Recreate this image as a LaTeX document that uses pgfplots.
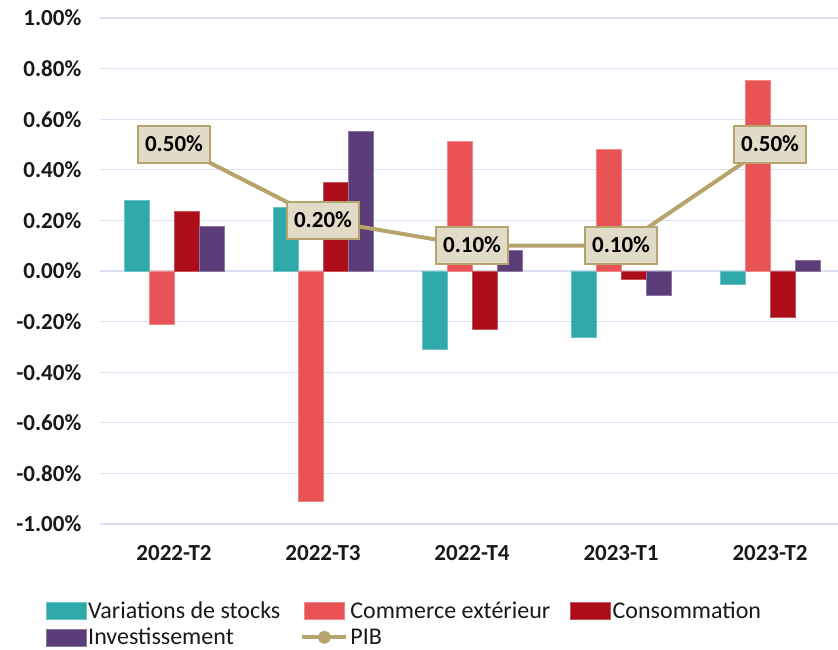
\documentclass[border=0pt]{standalone}
\usepackage{fontspec}
\setmainfont{Carlito}
\usepackage{pgfplots}
\pgfplotsset{compat=1.18}
\definecolor{cteal}{HTML}{2FA8AA}
\definecolor{csalmon}{HTML}{EA5356}
\definecolor{cred}{HTML}{AD0C19}
\definecolor{cpurple}{HTML}{5B3D79}
\definecolor{cpib}{HTML}{B5A46E}
\definecolor{clabfill}{HTML}{E2DBC7}
\definecolor{cgrid}{HTML}{D9E0F3}
\begin{document}
\begin{tikzpicture}[x=1pt,y=1pt]
\path[use as bounding box] (0,0) rectangle (838,650);
\begin{axis}[
  at={(99.5pt,126pt)}, anchor=south west,
  scale only axis, width=738.5pt, height=506pt,
  xmin=-0.5, xmax=4.456, ymin=-1, ymax=1,
  clip=false,
  axis line style={draw=none},
  tick style={draw=none},
  ymajorgrids, grid style={cgrid, line width=1.3pt},
  xtick={0,1,2,3,4},
  xticklabels={2022-T2,2022-T3,2022-T4,2023-T1,2023-T2},
  ytick={-1,-0.8,-0.6,-0.4,-0.2,0,0.2,0.4,0.6,0.8,1},
  yticklabels={-1.00\%,-0.80\%,-0.60\%,-0.40\%,-0.20\%,0.00\%,0.20\%,0.40\%,0.60\%,0.80\%,1.00\%},
  /pgf/number format/assume math mode=true,
  ticklabel style={font=\fontsize{23}{27}\selectfont\bfseries, text=black!90},
  yticklabel style={anchor=east, inner sep=0pt, xshift=-18pt},
  xticklabel style={anchor=north, inner sep=0pt, yshift=-21pt},
  /pgf/bar width=25pt,
  legend columns=3,
  legend cell align=left,
  legend style={at={(-0.0731,-0.152)}, anchor=north west, draw=none, fill=none,
    inner sep=0pt, font=\fontsize{24}{28}\selectfont, text=black!90,
    nodes={inner xsep=2pt, inner ysep=1pt},
    row sep=6pt,
    /tikz/every even column/.append style={column sep=18pt}},
]
\addplot[ybar, bar shift=-37.5pt, fill=cteal, draw=cteal!70!white, line width=0.5pt,
  legend image code/.code={\path[fill=cteal] (0pt,-8.5pt) rectangle (40pt,8.5pt);}]
  coordinates {(0,0.28) (1,0.25) (2,-0.308) (3,-0.262) (4,-0.051)};
\addlegendentry{Variations de stocks}
\addplot[ybar, bar shift=-12.5pt, fill=csalmon, draw=csalmon!70!white, line width=0.5pt,
  legend image code/.code={\path[fill=csalmon] (0pt,-8.5pt) rectangle (40pt,8.5pt);}]
  coordinates {(0,-0.21) (1,-0.91) (2,0.513) (3,0.481) (4,0.752)};
\addlegendentry{Commerce extérieur}
\addplot[ybar, bar shift=12.5pt, fill=cred, draw=cred!70!white, line width=0.5pt,
  legend image code/.code={\path[fill=cred] (0pt,-8.5pt) rectangle (40pt,8.5pt);}]
  coordinates {(0,0.235) (1,0.35) (2,-0.232) (3,-0.032) (4,-0.181)};
\addlegendentry{Consommation}
\addplot[ybar, bar shift=37.5pt, fill=cpurple, draw=cpurple!70!white, line width=0.5pt,
  legend image code/.code={\path[fill=cpurple] (0pt,-8.5pt) rectangle (40pt,8.5pt);}]
  coordinates {(0,0.175) (1,0.553) (2,0.081) (3,-0.097) (4,0.042)};
\addlegendentry{Investissement}
\addplot[sharp plot, cpib, line width=4pt, mark=*, mark size=4pt,
  legend image code/.code={\draw[cpib, line width=4pt] (-2pt,0pt) -- (42pt,0pt); \fill[cpib] (20pt,0pt) circle (4.5pt);},
  nodes near coords={\pgfmathprintnumber[fixed,fixed zerofill,precision=2]{\pgfplotspointmeta}\%},
  every node near coord/.append style={anchor=center, fill=clabfill, draw=cpib,
    line width=1.5pt, text=black, font=\fontsize{23}{27}\selectfont\bfseries,
    text height=15pt, text depth=1pt, inner xsep=7pt, inner ysep=10.5pt}]
  coordinates {(0,0.5) (1,0.2) (2,0.1) (3,0.1) (4,0.5)};
\addlegendentry{PIB}
\end{axis}
\end{tikzpicture}
\end{document}
